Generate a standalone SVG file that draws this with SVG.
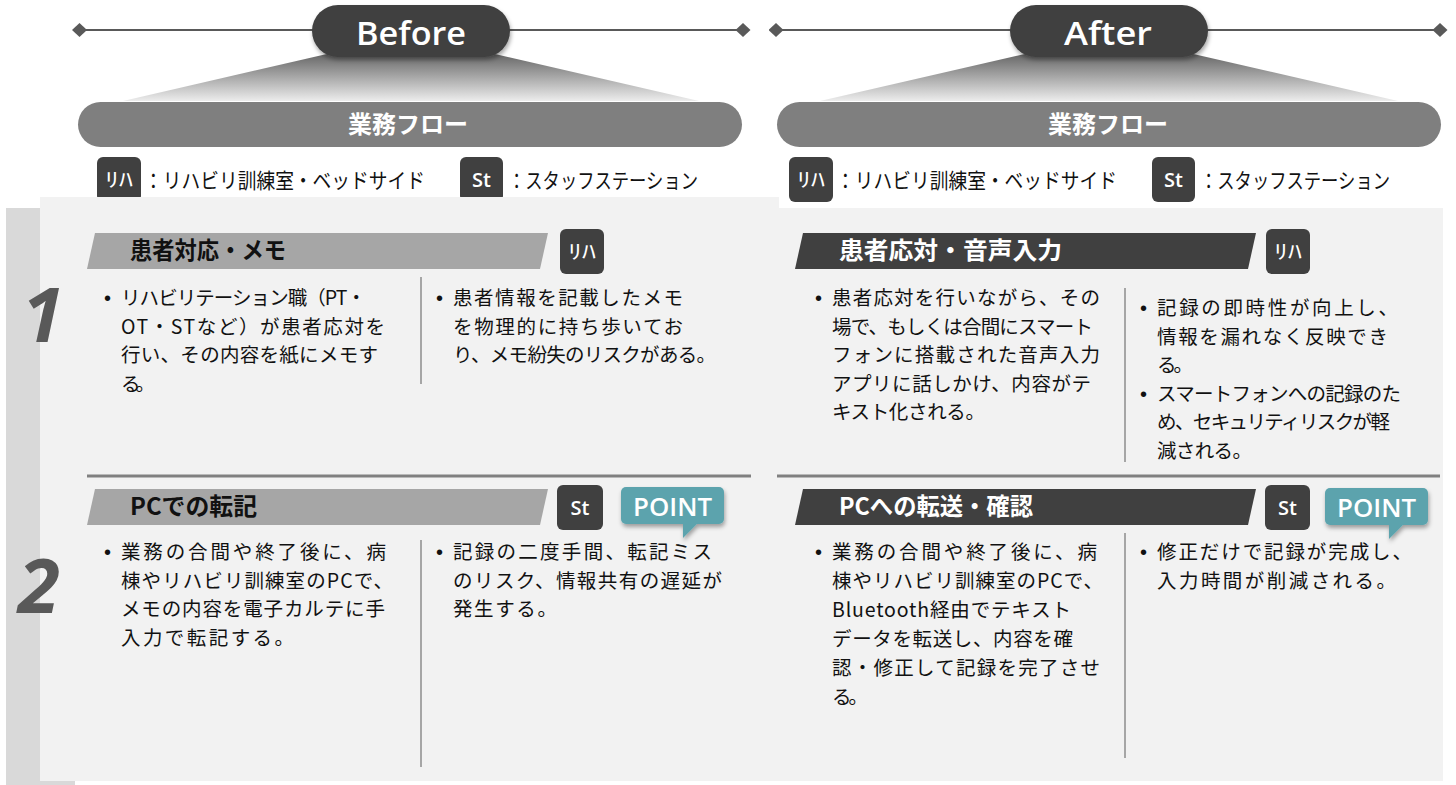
<svg xmlns="http://www.w3.org/2000/svg" width="1456" height="785" viewBox="0 0 1456 785">
<defs>
<style>
.jp{font-family:"Noto Sans CJK JP","Noto Sans",sans-serif;}
.lat{font-family:"Open Sans","Noto Sans",sans-serif;}
.body{font-family:"Noto Sans CJK JP","Noto Sans",sans-serif;font-size:19.5px;fill:#111;}
.bul{font-family:"Liberation Sans",Arial,sans-serif;font-size:20px;fill:#111;}
.hdr{font-family:"Noto Sans CJK JP",sans-serif;font-size:24px;font-weight:700;}
.badge{fill:#404040;}
.btxt{fill:#fff;font-size:20px;text-anchor:middle;}
.legend{font-family:"Noto Sans CJK JP",sans-serif;font-size:21px;fill:#111;}
.pill{fill:#404040;}
.pilltxt{font-family:"Open Sans","Noto Sans",sans-serif;font-weight:600;font-size:33px;fill:#fff;text-anchor:middle;}
.flow{fill:#7f7f7f;}
.flowtxt{font-family:"Noto Sans CJK JP",sans-serif;font-weight:700;font-size:24px;fill:#fff;text-anchor:middle;}
.vdiv{stroke:#a6a6a6;stroke-width:2;}
.hdiv{stroke:#808080;stroke-width:3;}
.point{fill:#5ba3ad;}
.pointtxt{font-family:"Open Sans","Noto Sans",sans-serif;font-weight:600;font-size:26px;fill:#fff;text-anchor:middle;}
.num{font-family:"Open Sans","Noto Sans",sans-serif;font-weight:700;font-style:italic;font-size:76px;fill:#595959;text-anchor:middle;}
.topline{stroke:#595959;stroke-width:2;fill:none;}
</style>
<linearGradient id="fan" x1="0" y1="0" x2="0" y2="1">
<stop offset="0" stop-color="#4d4d4d"/>
<stop offset="1" stop-color="#ececec"/>
</linearGradient>
<filter id="sh" x="-20%" y="-20%" width="140%" height="160%">
<feDropShadow dx="1" dy="3" stdDeviation="2" flood-color="#000" flood-opacity="0.35"/>
</filter>
<marker id="dia" markerUnits="userSpaceOnUse" markerWidth="16" markerHeight="15" refX="7.5" refY="7" orient="auto">
<path d="M0,7 L7.5,0 L15,7 L7.5,14 Z" fill="#595959"/>
</marker>
</defs>

<rect width="1456" height="785" fill="#fff"/>

<g id="connectors">
<line class="topline" x1="79.5" y1="30" x2="743" y2="30" marker-start="url(#dia)" marker-end="url(#dia)"/>
<line class="topline" x1="776" y1="30" x2="1440" y2="30" marker-start="url(#dia)" marker-end="url(#dia)"/>
<polygon points="18,472 67,472 42.5,505" fill="#595959"/>
</g>

<g id="header-before">
<polygon points="366,45 456,45 699,101 123,101" fill="url(#fan)"/>
<rect class="pill" x="312" y="5" width="198" height="52" rx="26" filter="url(#sh)"/>
<text class="pilltxt" x="411" y="45" textLength="110" lengthAdjust="spacingAndGlyphs">Before</text>
<rect class="flow" x="78" y="102" width="664" height="45" rx="22.5"/>
<text class="flowtxt" x="408" y="133">業務フロー</text>
</g>

<g id="header-after">
<polygon points="1064,45 1154,45 1398,101 820,101" fill="url(#fan)"/>
<rect class="pill" x="1010" y="5" width="198" height="52" rx="26" filter="url(#sh)"/>
<text class="pilltxt" x="1108" y="45" textLength="88" lengthAdjust="spacingAndGlyphs">After</text>
<rect class="flow" x="777" y="102" width="664" height="45" rx="22.5"/>
<text class="flowtxt" x="1108" y="133">業務フロー</text>
</g>

<g id="legend-before">
<rect class="badge" x="97" y="157" width="44" height="45" rx="6"/>
<text class="btxt jp" x="119" y="187" textLength="28" lengthAdjust="spacingAndGlyphs">ﾘﾊ</text>
<text class="legend" x="144" y="188" textLength="281" lengthAdjust="spacingAndGlyphs">：リハビリ訓練室・ベッドサイド</text>
<rect class="badge" x="460" y="157" width="43" height="45" rx="6"/>
<text class="btxt lat" x="481.5" y="187" font-weight="600">St</text>
<text class="legend" x="508" y="188" textLength="190" lengthAdjust="spacingAndGlyphs">：スタッフステーション</text>
</g>

<g id="legend-after">
<rect class="badge" x="789" y="157" width="44" height="45" rx="6"/>
<text class="btxt jp" x="811" y="187" textLength="28" lengthAdjust="spacingAndGlyphs">ﾘﾊ</text>
<text class="legend" x="836" y="188" textLength="281" lengthAdjust="spacingAndGlyphs">：リハビリ訓練室・ベッドサイド</text>
<rect class="badge" x="1152" y="157" width="43" height="45" rx="6"/>
<text class="btxt lat" x="1173.5" y="187" font-weight="600">St</text>
<text class="legend" x="1200" y="188" textLength="190" lengthAdjust="spacingAndGlyphs">：スタッフステーション</text>
</g>

<g id="panels">
<rect x="6" y="208" width="69" height="577" fill="#d9d9d9"/>
<rect x="40" y="197" width="739" height="584" fill="#f2f2f2"/>
<rect x="779" y="208" width="664" height="573" fill="#f2f2f2"/>
<text class="num" x="43" y="342">1</text>
<text class="num" x="39" y="613">2</text>
<line class="hdiv" x1="87" y1="476" x2="751" y2="476"/>
<line class="hdiv" x1="777" y1="476" x2="1440" y2="476"/>
</g>

<g id="before-step1">
<polygon points="95,233 548,233 540,269 87,269" fill="#a6a6a6"/>
<text class="hdr" x="130" y="259" fill="#111" textLength="156" lengthAdjust="spacingAndGlyphs">患者対応・メモ</text>
<rect class="badge" x="560" y="229" width="44" height="45" rx="6"/>
<text class="btxt jp" x="582" y="259" textLength="28" lengthAdjust="spacingAndGlyphs">ﾘﾊ</text>
<text class="bul" x="104" y="305">•</text>
<text class="body" x="121" y="305" textLength="245">リハビリテーション職（PT・</text>
<text class="body" x="121" y="333.5" textLength="264">OT・STなど）が患者応対を</text>
<text class="body" x="121" y="362" textLength="257">行い、その内容を紙にメモす</text>
<text class="body" x="121" y="390.5" textLength="34">る。</text>
<line class="vdiv" x1="421" y1="277" x2="421" y2="384"/>
<text class="bul" x="436" y="305">•</text>
<text class="body" x="453" y="305" textLength="230">患者情報を記載したメモ</text>
<text class="body" x="453" y="333.5" textLength="230">を物理的に持ち歩いてお</text>
<text class="body" x="453" y="362" textLength="263">り、メモ紛失のリスクがある。</text>
</g>

<g id="before-step2">
<polygon points="95,489 548,489 540,525 87,525" fill="#a6a6a6"/>
<text class="hdr" x="130" y="515" fill="#111" textLength="127" lengthAdjust="spacingAndGlyphs">PCでの転記</text>
<rect class="badge" x="557" y="485" width="46" height="45" rx="6"/>
<text class="btxt lat" x="580" y="515" font-weight="600">St</text>
<g filter="url(#sh)">
<rect class="point" x="621" y="487" width="103" height="37" rx="5"/>
<polygon class="point" points="683,523 698,523 683,538"/>
</g>
<text class="pointtxt" x="672.5" y="516" textLength="79" lengthAdjust="spacingAndGlyphs">POINT</text>
<text class="bul" x="104" y="559">•</text>
<text class="body" x="121" y="559" textLength="265">業務の合間や終了後に、病</text>
<text class="body" x="121" y="587.5" textLength="272">棟やリハビリ訓練室のPCで、</text>
<text class="body" x="121" y="616" textLength="264">メモの内容を電子カルテに手</text>
<text class="body" x="121" y="644.5" textLength="173">入力で転記する。</text>
<line class="vdiv" x1="421" y1="540" x2="421" y2="767"/>
<text class="bul" x="436" y="559">•</text>
<text class="body" x="453" y="559" textLength="259">記録の二度手間、転記ミス</text>
<text class="body" x="453" y="587.5" textLength="269">のリスク、情報共有の遅延が</text>
<text class="body" x="453" y="616" textLength="104">発生する。</text>
</g>

<g id="after-step1">
<polygon points="803,233 1256,233 1248,269 795,269" fill="#404040"/>
<text class="hdr" x="839" y="259" fill="#fff" textLength="223" lengthAdjust="spacingAndGlyphs">患者応対・音声入力</text>
<rect class="badge" x="1266" y="229" width="44" height="45" rx="6"/>
<text class="btxt jp" x="1288" y="259" textLength="28" lengthAdjust="spacingAndGlyphs">ﾘﾊ</text>
<text class="bul" x="815" y="305">•</text>
<text class="body" x="832" y="305" textLength="268">患者応対を行いながら、その</text>
<text class="body" x="832" y="333.5" textLength="261">場で、もしくは合間にスマート</text>
<text class="body" x="832" y="362" textLength="268">フォンに搭載された音声入力</text>
<text class="body" x="832" y="390.5" textLength="259">アプリに話しかけ、内容がテ</text>
<text class="body" x="832" y="419" textLength="153">キスト化される。</text>
<line class="vdiv" x1="1125" y1="288" x2="1125" y2="462"/>
<text class="bul" x="1140" y="315">•</text>
<text class="body" x="1157" y="315" textLength="241">記録の即時性が向上し、</text>
<text class="body" x="1157" y="343.5" textLength="231">情報を漏れなく反映でき</text>
<text class="body" x="1157" y="372" textLength="36">る。</text>
<text class="bul" x="1140" y="400.5">•</text>
<text class="body" x="1157" y="400.5" textLength="244">スマートフォンへの記録のた</text>
<text class="body" x="1157" y="429" textLength="233">め、セキュリティリスクが軽</text>
<text class="body" x="1157" y="457.5" textLength="95">減される。</text>
</g>

<g id="after-step2">
<polygon points="803,489 1256,489 1248,525 795,525" fill="#404040"/>
<text class="hdr" x="839" y="515" fill="#fff" textLength="194" lengthAdjust="spacingAndGlyphs">PCへの転送・確認</text>
<rect class="badge" x="1265" y="485" width="45" height="45" rx="6"/>
<text class="btxt lat" x="1287.5" y="515" font-weight="600">St</text>
<g filter="url(#sh)">
<rect class="point" x="1325" y="488" width="103" height="37" rx="5"/>
<polygon class="point" points="1389,524 1404,524 1389,539"/>
</g>
<text class="pointtxt" x="1376.5" y="517" textLength="79" lengthAdjust="spacingAndGlyphs">POINT</text>
<text class="bul" x="815" y="559">•</text>
<text class="body" x="832" y="559" textLength="265">業務の合間や終了後に、病</text>
<text class="body" x="832" y="588" textLength="271">棟やリハビリ訓練室のPCで、</text>
<text class="body" x="832" y="617" textLength="239">Bluetooth経由でテキスト</text>
<text class="body" x="832" y="646" textLength="241">データを転送し、内容を確</text>
<text class="body" x="832" y="675" textLength="268">認・修正して記録を完了させ</text>
<text class="body" x="832" y="704" textLength="36">る。</text>
<line class="vdiv" x1="1125" y1="533" x2="1125" y2="758"/>
<text class="bul" x="1140" y="559">•</text>
<text class="body" x="1157" y="559" textLength="255">修正だけで記録が完成し、</text>
<text class="body" x="1157" y="587.5" textLength="239">入力時間が削減される。</text>
</g>
</svg>
